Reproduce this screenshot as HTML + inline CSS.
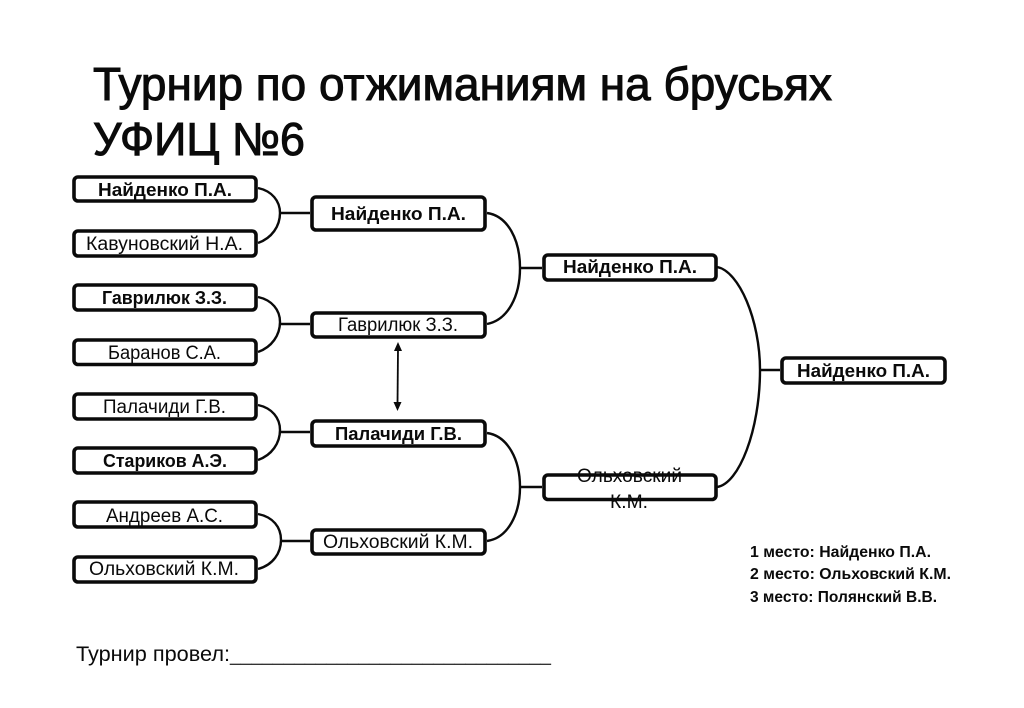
<!DOCTYPE html>
<html lang="ru">
<head>
<meta charset="utf-8">
<title>Турнир по отжиманиям на брусьях</title>
<style>
html,body{margin:0;padding:0;background:#fff;width:1024px;height:708px;overflow:hidden}
svg{display:block}
text{font-family:"Liberation Sans",sans-serif;fill:#0a0a0a}
.t{font-size:46px;stroke:#0a0a0a;stroke-width:1px}
.n{font-size:19px}
.b{font-size:18.5px;font-weight:bold}
.l{font-size:15.5px;font-weight:bold}
.f{font-size:21px}
.box{fill:#fff;stroke:#0a0a0a;stroke-width:3.6}
.c{fill:none;stroke:#0a0a0a;stroke-width:2.4}
</style>
</head>
<body>
<svg width="1024" height="708" viewBox="0 0 1024 708" xmlns="http://www.w3.org/2000/svg">
<rect width="1024" height="708" fill="#fff"/>

<text class="t" x="93" y="100" textLength="739" lengthAdjust="spacingAndGlyphs">Турнир по отжиманиям на брусьях</text>
<text class="t" x="93" y="155" textLength="212" lengthAdjust="spacingAndGlyphs">УФИЦ №6</text>

<!-- connectors -->
<path class="c" d="M258 188 C272 191 280 201 280 213 C280 226 272 238 258 243 M280 213 H310"/>
<path class="c" d="M258 297 C272 300 280 310 280 322 C280 335 272 347 258 352 M280 324 H310"/>
<path class="c" d="M258 405 C272 408 280 418 280 430 C280 443 272 455 258 460 M280 432 H310"/>
<path class="c" d="M258 514 C273 517 281 527 281 540 C281 553 273 565 258 569 M281 541 H310"/>
<path class="c" d="M487 213 C508 216 520 240 520 268 C520 296 508 320 487 324 M520 268 H542"/>
<path class="c" d="M487 433 C508 436 520 460 520 487 C520 514 508 538 487 541 M519 487 H542"/>
<path class="c" d="M717 267 C739 271 760 320 760 370 C760 430 739 484 717 487 M760 370 H780"/>

<!-- double arrow -->
<path d="M398 349 L397.5 405" fill="none" stroke="#0a0a0a" stroke-width="1.8"/>
<path d="M398 342 L402 351 L394 351 Z M397.5 411 L401.5 402 L393.5 402 Z" fill="#0a0a0a"/>

<!-- col 1 -->
<rect class="box" x="74" y="177" width="182" height="24" rx="4"/>
<rect class="box" x="74" y="231" width="182" height="25" rx="4"/>
<rect class="box" x="74" y="285" width="182" height="25" rx="4"/>
<rect class="box" x="74" y="340" width="182" height="24.5" rx="4"/>
<rect class="box" x="74" y="394" width="182" height="25" rx="4"/>
<rect class="box" x="74" y="448" width="182" height="25" rx="4"/>
<rect class="box" x="74" y="502" width="182" height="25" rx="4"/>
<rect class="box" x="74" y="557" width="182" height="25" rx="4"/>
<!-- col 2 -->
<rect class="box" x="312" y="197" width="173" height="33" rx="4"/>
<rect class="box" x="312" y="313" width="173" height="24" rx="4"/>
<rect class="box" x="312" y="421" width="173" height="25" rx="4"/>
<rect class="box" x="312" y="530" width="173" height="24" rx="4"/>
<!-- col 3 -->
<rect class="box" x="544" y="255" width="172" height="25" rx="4"/>
<rect class="box" x="544" y="475" width="172" height="24.5" rx="4"/>
<!-- col 4 -->
<rect class="box" x="782" y="358" width="163" height="25" rx="4"/>

<!-- labels col 1 -->
<text class="b" x="98" y="196" textLength="134" lengthAdjust="spacingAndGlyphs">Найденко П.А.</text>
<text class="n" x="86" y="250" textLength="157" lengthAdjust="spacingAndGlyphs">Кавуновский Н.А.</text>
<text class="b" x="102" y="304" textLength="125" lengthAdjust="spacingAndGlyphs">Гаврилюк З.З.</text>
<text class="n" x="108" y="359" textLength="113" lengthAdjust="spacingAndGlyphs">Баранов С.А.</text>
<text class="n" x="103" y="413" textLength="123" lengthAdjust="spacingAndGlyphs">Палачиди Г.В.</text>
<text class="b" x="103" y="467" textLength="124" lengthAdjust="spacingAndGlyphs">Стариков А.Э.</text>
<text class="n" x="106" y="522" textLength="117" lengthAdjust="spacingAndGlyphs">Андреев А.С.</text>
<text class="n" x="89" y="575" textLength="150" lengthAdjust="spacingAndGlyphs">Ольховский К.М.</text>
<!-- labels col 2 -->
<text class="b" x="331" y="220" textLength="135" lengthAdjust="spacingAndGlyphs">Найденко П.А.</text>
<text class="n" x="338" y="331" textLength="120" lengthAdjust="spacingAndGlyphs">Гаврилюк З.З.</text>
<text class="b" x="335" y="440" textLength="127" lengthAdjust="spacingAndGlyphs">Палачиди Г.В.</text>
<text class="n" x="323" y="548" textLength="150" lengthAdjust="spacingAndGlyphs">Ольховский К.М.</text>
<!-- labels col 3 -->
<text class="b" x="563" y="273" textLength="134" lengthAdjust="spacingAndGlyphs">Найденко П.А.</text>
<text class="n" x="577" y="482" textLength="105" lengthAdjust="spacingAndGlyphs">Ольховский</text>
<text class="n" x="610" y="508" textLength="38" lengthAdjust="spacingAndGlyphs">К.М.</text>
<!-- labels col 4 -->
<text class="b" x="797" y="377" textLength="133" lengthAdjust="spacingAndGlyphs">Найденко П.А.</text>

<!-- legend -->
<text class="l" x="750" y="557" textLength="181" lengthAdjust="spacingAndGlyphs">1 место: Найденко П.А.</text>
<text class="l" x="750" y="579" textLength="201" lengthAdjust="spacingAndGlyphs">2 место: Ольховский К.М.</text>
<text class="l" x="750" y="602" textLength="187" lengthAdjust="spacingAndGlyphs">3 место: Полянский В.В.</text>

<!-- footer -->
<text class="f" x="76" y="661" textLength="154" lengthAdjust="spacingAndGlyphs">Турнир провел:</text>
<text class="f" x="230" y="661" textLength="321" lengthAdjust="spacingAndGlyphs" style="fill:#333">______________________________</text>
</svg>
</body>
</html>
